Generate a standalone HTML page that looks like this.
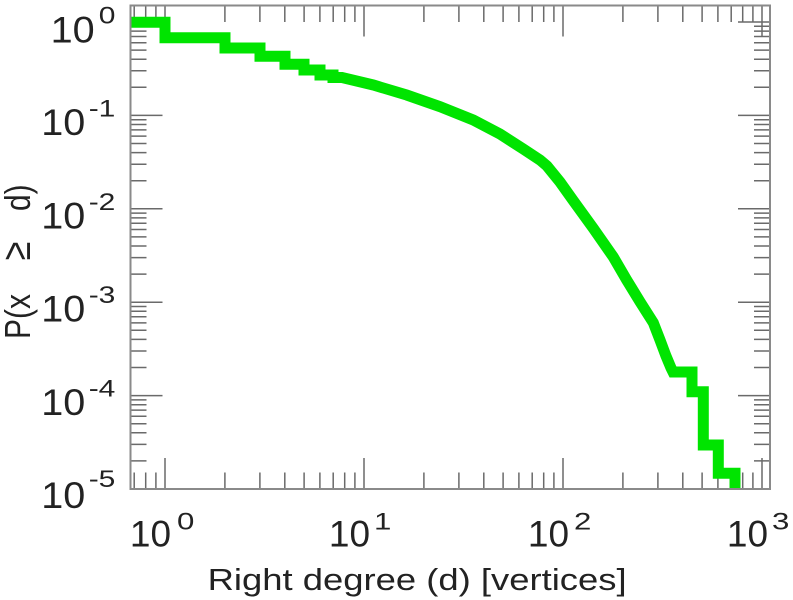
<!DOCTYPE html>
<html>
<head>
<meta charset="utf-8">
<style>
html,body{margin:0;padding:0;background:#fff;width:793px;height:600px;overflow:hidden}
svg{display:block}
</style>
</head>
<body>
<svg width="793" height="600" viewBox="0 0 793 600" xmlns="http://www.w3.org/2000/svg" font-family="'Liberation Sans', Arial, sans-serif" fill="#222">
<defs>
<clipPath id="c"><rect x="130.5" y="5.5" width="639.5" height="483.5"/></clipPath>
</defs>

<!-- ticks -->
<path fill="none" stroke="#6a6a6a" stroke-width="1.5" d="
M165,489v-31 M364,489v-31 M563,489v-31 M762,489v-31
M165,5.5v31 M364,5.5v31 M563,5.5v31 M762,5.5v31
M134.2,489v-16.5 M145.7,489v-16.5 M155.9,489v-16.5
M224.9,489v-16.5 M259.9,489v-16.5 M284.8,489v-16.5 M304.1,489v-16.5 M319.9,489v-16.5 M333.2,489v-16.5 M344.7,489v-16.5 M354.9,489v-16.5
M423.9,489v-16.5 M458.9,489v-16.5 M483.8,489v-16.5 M503.1,489v-16.5 M518.9,489v-16.5 M532.2,489v-16.5 M543.7,489v-16.5 M553.9,489v-16.5
M622.9,489v-16.5 M657.9,489v-16.5 M682.8,489v-16.5 M702.1,489v-16.5 M717.9,489v-16.5 M731.2,489v-16.5 M742.7,489v-16.5 M752.9,489v-16.5
M134.2,5.5v16.5 M145.7,5.5v16.5 M155.9,5.5v16.5
M224.9,5.5v16.5 M259.9,5.5v16.5 M284.8,5.5v16.5 M304.1,5.5v16.5 M319.9,5.5v16.5 M333.2,5.5v16.5 M344.7,5.5v16.5 M354.9,5.5v16.5
M423.9,5.5v16.5 M458.9,5.5v16.5 M483.8,5.5v16.5 M503.1,5.5v16.5 M518.9,5.5v16.5 M532.2,5.5v16.5 M543.7,5.5v16.5 M553.9,5.5v16.5
M622.9,5.5v16.5 M657.9,5.5v16.5 M682.8,5.5v16.5 M702.1,5.5v16.5 M717.9,5.5v16.5 M731.2,5.5v16.5 M742.7,5.5v16.5 M752.9,5.5v16.5

M130.5,22h32 M130.5,115.4h32 M130.5,208.8h32 M130.5,302.2h32 M130.5,395.6h32 M130.5,489h32
M770,22h-32 M770,115.4h-32 M770,208.8h-32 M770,302.2h-32 M770,395.6h-32 M770,489h-32

M130.5,87.3h16 M130.5,70.8h16 M130.5,59.2h16 M130.5,50.1h16 M130.5,42.7h16 M130.5,36.5h16 M130.5,31.1h16 M130.5,26.3h16
M130.5,180.7h16 M130.5,164.2h16 M130.5,152.6h16 M130.5,143.5h16 M130.5,136.1h16 M130.5,129.9h16 M130.5,124.5h16 M130.5,119.7h16
M130.5,274.1h16 M130.5,257.6h16 M130.5,246h16 M130.5,236.9h16 M130.5,229.5h16 M130.5,223.3h16 M130.5,217.9h16 M130.5,213.1h16
M130.5,367.5h16 M130.5,351h16 M130.5,339.4h16 M130.5,330.3h16 M130.5,322.9h16 M130.5,316.7h16 M130.5,311.3h16 M130.5,306.5h16
M130.5,460.9h16 M130.5,444.4h16 M130.5,432.8h16 M130.5,423.7h16 M130.5,416.3h16 M130.5,410.1h16 M130.5,404.7h16 M130.5,399.9h16

M770,87.3h-16 M770,70.8h-16 M770,59.2h-16 M770,50.1h-16 M770,42.7h-16 M770,36.5h-16 M770,31.1h-16 M770,26.3h-16
M770,180.7h-16 M770,164.2h-16 M770,152.6h-16 M770,143.5h-16 M770,136.1h-16 M770,129.9h-16 M770,124.5h-16 M770,119.7h-16
M770,274.1h-16 M770,257.6h-16 M770,246h-16 M770,236.9h-16 M770,229.5h-16 M770,223.3h-16 M770,217.9h-16 M770,213.1h-16
M770,367.5h-16 M770,351h-16 M770,339.4h-16 M770,330.3h-16 M770,322.9h-16 M770,316.7h-16 M770,311.3h-16 M770,306.5h-16
M770,460.9h-16 M770,444.4h-16 M770,432.8h-16 M770,423.7h-16 M770,416.3h-16 M770,410.1h-16 M770,404.7h-16 M770,399.9h-16
"/>

<!-- data curve -->
<path clip-path="url(#c)" fill="none" stroke="#00e400" stroke-width="11" stroke-linejoin="miter" stroke-linecap="butt" d="
M125,22.3 H165 V37.8 H225 V48 H260 V56.3 H285 V64.2 H304 V70 H320 V75 H333 V77.5 H342
L373.3,85 L406.7,95 L440,106.7 L473.3,120 L500,134 L523.3,149 L540,160 L547,166 L560,182
L573.3,200.7 L593.3,228.3 L613.3,257 L626.7,280 L640,301.7 L653.3,322.7 L660,340 L666,356 L671,368 L673,372
H692 V391.7 H703.3 V445 H718.3 V473.3 H735 V500"/>

<!-- frame -->
<rect x="130.5" y="5.5" width="639.5" height="483.5" fill="none" stroke="#8a8a8a" stroke-width="2"/>

<!-- y tick labels -->
<text transform="translate(50.6,42.3) scale(1.07,1)" font-size="37">10</text>
<text transform="translate(98.7,23.5) scale(1.25,1)" font-size="24">0</text>

<text transform="translate(41.3,134.9) scale(1.07,1)" font-size="37">10</text>
<text transform="translate(88.7,116.4) scale(1.25,1)" font-size="24">-1</text>

<text transform="translate(41.3,228.3) scale(1.07,1)" font-size="37">10</text>
<text transform="translate(88.7,209.8) scale(1.25,1)" font-size="24">-2</text>

<text transform="translate(41.3,321.7) scale(1.07,1)" font-size="37">10</text>
<text transform="translate(88.7,303.2) scale(1.25,1)" font-size="24">-3</text>

<text transform="translate(41.3,415.1) scale(1.07,1)" font-size="37">10</text>
<text transform="translate(88.7,396.6) scale(1.25,1)" font-size="24">-4</text>

<text transform="translate(41.3,508) scale(1.07,1)" font-size="37">10</text>
<text transform="translate(88.7,487) scale(1.25,1)" font-size="24">-5</text>

<!-- x tick labels -->
<text transform="translate(129.9,546.7)" font-size="37">10</text>
<text transform="translate(177,529.5) scale(1.3,1)" font-size="24">0</text>

<text transform="translate(328.9,546.7)" font-size="37">10</text>
<text transform="translate(374,529.5) scale(1.3,1)" font-size="24">1</text>

<text transform="translate(527.9,546.7)" font-size="37">10</text>
<text transform="translate(574,529.5) scale(1.3,1)" font-size="24">2</text>

<text transform="translate(726.9,546.7)" font-size="37">10</text>
<text transform="translate(772,529.5) scale(1.3,1)" font-size="24">3</text>

<!-- x axis title -->
<text x="207.6" y="590" font-size="30.5" textLength="419" lengthAdjust="spacingAndGlyphs">Right degree (d) [vertices]</text>

<!-- y axis title -->
<text transform="translate(30,339) scale(1.2,1) rotate(-90)" font-size="30">P(x</text>
<text transform="translate(30,260.3) scale(1.2,1) rotate(-90)" font-size="34">≥</text>
<text transform="translate(30,211) scale(1.2,1) rotate(-90)" font-size="30">d)</text>
</svg>
</body>
</html>
